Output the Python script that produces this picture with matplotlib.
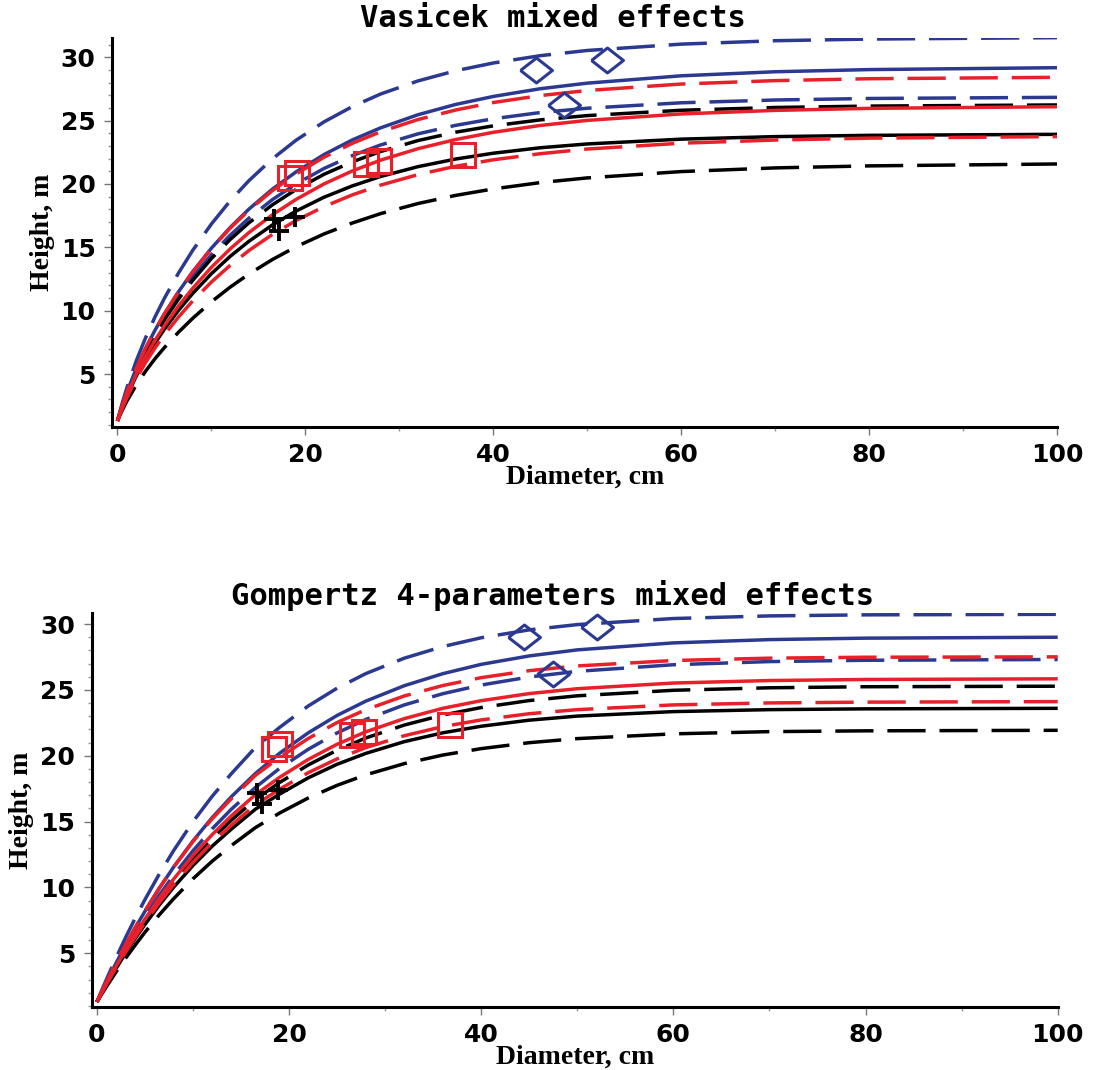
import matplotlib
matplotlib.use("Agg")
import matplotlib.pyplot as plt
from matplotlib.ticker import MultipleLocator

BLUE = "#2b3990"
RED = "#e8202a"
BLACK = "#000000"

diam = [0, 0.5, 1, 2, 3, 4, 5, 6.5, 8, 10, 12, 14, 16.5, 19, 22, 25, 28, 32, 36, 40, 45, 50, 60, 70, 80, 100]

# Vasicek panel (height, m)
vas_blue_hi = [1.3, 2.67, 3.90, 6.03, 7.87, 9.51, 10.98, 12.97, 14.75, 16.84, 18.67, 20.27, 21.99, 23.45,
               24.91, 26.11, 27.10, 28.14, 28.94, 29.55, 30.13, 30.54, 31.04, 31.31, 31.44, 31.55]
vas_blue = [1.3, 2.50, 3.57, 5.43, 7.03, 8.46, 9.75, 11.49, 13.06, 14.93, 16.57, 18.02, 19.60, 20.95,
            22.33, 23.48, 24.43, 25.47, 26.28, 26.91, 27.52, 27.96, 28.54, 28.86, 29.03, 29.18]
vas_blue_lo = [1.3, 2.46, 3.49, 5.30, 6.85, 8.23, 9.47, 11.15, 12.65, 14.42, 15.96, 17.31, 18.77, 20.00,
               21.23, 22.24, 23.08, 23.96, 24.63, 25.15, 25.64, 25.98, 26.41, 26.63, 26.75, 26.84]
vas_red_hi = [1.3, 2.50, 3.57, 5.44, 7.04, 8.46, 9.75, 11.50, 13.05, 14.90, 16.51, 17.94, 19.48, 20.79,
              22.12, 23.21, 24.12, 25.09, 25.84, 26.43, 26.98, 27.38, 27.89, 28.16, 28.31, 28.42]
vas_red = [1.3, 2.37, 3.32, 4.97, 6.40, 7.66, 8.81, 10.37, 11.76, 13.42, 14.88, 16.17, 17.57, 18.78,
           20.01, 21.03, 21.88, 22.79, 23.51, 24.08, 24.62, 25.02, 25.53, 25.81, 25.97, 26.10]
vas_red_lo = [1.3, 2.26, 3.12, 4.62, 5.91, 7.06, 8.10, 9.50, 10.76, 12.26, 13.58, 14.75, 16.02, 17.11,
              18.22, 19.14, 19.91, 20.74, 21.40, 21.91, 22.39, 22.76, 23.22, 23.47, 23.62, 23.74]
vas_black_hi = [1.3, 2.43, 3.44, 5.20, 6.72, 8.06, 9.28, 10.92, 12.38, 14.11, 15.62, 16.94, 18.36, 19.56,
                20.77, 21.75, 22.56, 23.43, 24.09, 24.59, 25.06, 25.40, 25.82, 26.04, 26.15, 26.24]
vas_black = [1.3, 2.32, 3.24, 4.84, 6.21, 7.44, 8.54, 10.03, 11.35, 12.92, 14.29, 15.48, 16.77, 17.86,
             18.96, 19.85, 20.59, 21.37, 21.97, 22.43, 22.86, 23.16, 23.54, 23.74, 23.84, 23.92]
vas_black_lo = [1.3, 2.12, 2.86, 4.13, 5.23, 6.21, 7.09, 8.30, 9.39, 10.70, 11.86, 12.90, 14.04, 15.04,
                16.06, 16.92, 17.66, 18.46, 19.10, 19.61, 20.11, 20.48, 20.98, 21.27, 21.43, 21.58]

# Gompertz panel (height, m)
gom_blue_hi = [1.3, 2.17, 3.02, 4.66, 6.21, 7.68, 9.07, 11.02, 12.81, 14.99, 16.92, 18.64, 20.63, 22.14,
               23.78, 25.13, 26.24, 27.41, 28.29, 28.96, 29.56, 29.96, 30.42, 30.62, 30.70, 30.74]
gom_blue = [1.3, 2.07, 2.82, 4.26, 5.63, 6.94, 8.18, 9.93, 11.56, 13.53, 15.30, 16.89, 18.65, 20.18,
            21.74, 23.06, 24.15, 25.32, 26.23, 26.94, 27.58, 28.04, 28.57, 28.82, 28.93, 29.00]
gom_blue_lo = [1.3, 2.02, 2.72, 4.08, 5.37, 6.60, 7.76, 9.41, 10.93, 12.78, 14.45, 15.94, 17.59, 19.03,
               20.49, 21.73, 22.76, 23.86, 24.71, 25.37, 25.98, 26.41, 26.91, 27.15, 27.25, 27.31]
gom_red_hi = [1.3, 2.08, 2.83, 4.29, 5.67, 6.98, 8.22, 9.96, 11.55, 13.48, 15.21, 16.74, 18.51, 19.86,
              21.31, 22.52, 23.50, 24.54, 25.33, 25.93, 26.46, 26.82, 27.23, 27.41, 27.48, 27.51]
gom_red = [1.3, 2.00, 2.69, 4.01, 5.26, 6.46, 7.59, 9.18, 10.64, 12.42, 14.01, 15.44, 17.04, 18.35,
           19.72, 20.87, 21.82, 22.82, 23.60, 24.18, 24.72, 25.09, 25.52, 25.71, 25.79, 25.84]
gom_red_lo = [1.3, 1.98, 2.63, 3.90, 5.10, 6.24, 7.32, 8.83, 10.22, 11.90, 13.40, 14.73, 16.27, 17.45,
              18.71, 19.76, 20.62, 21.52, 22.21, 22.72, 23.19, 23.50, 23.86, 24.01, 24.07, 24.11]
gom_black_hi = [1.3, 1.99, 2.66, 3.95, 5.17, 6.34, 7.44, 9.00, 10.43, 12.17, 13.72, 15.11, 16.68, 17.96,
                19.30, 20.42, 21.35, 22.33, 23.09, 23.66, 24.19, 24.55, 24.97, 25.16, 25.24, 25.28]
gom_black = [1.3, 1.96, 2.60, 3.84, 5.02, 6.13, 7.18, 8.66, 10.02, 11.66, 13.13, 14.43, 15.94, 17.08,
             18.32, 19.35, 20.18, 21.07, 21.74, 22.24, 22.70, 23.01, 23.35, 23.50, 23.56, 23.60]
gom_black_lo = [1.3, 1.89, 2.47, 3.58, 4.63, 5.63, 6.59, 7.92, 9.15, 10.65, 11.99, 13.18, 14.54, 15.64,
                16.79, 17.75, 18.55, 19.40, 20.05, 20.54, 20.99, 21.30, 21.66, 21.83, 21.89, 21.93]

# observed trees
sq_d = [18.4, 19.1, 26.5, 27.8, 36.8]
sq_h = [20.5, 20.9, 21.6, 21.8, 22.3]
dia_d = [44.5, 52.1, 47.5]
dia_h = [29.0, 29.8, 26.2]
plus_d = [16.7, 18.9, 17.2]
plus_h = [17.2, 17.4, 16.3]

WIDE_DIAMOND = [(-1, 0), (0, 0.78), (1, 0), (0, -0.78), (-1, 0)]
DASH = (0, (11, 4))


def panel(ax, curves, ylim):
    for y, col, ls in curves:
        ax.plot(diam, y, color=col, lw=2.5, linestyle=ls, solid_capstyle="butt",
                dash_capstyle="butt", solid_joinstyle="round", dash_joinstyle="round")
    ax.plot(plus_d, plus_h, "+", color=BLACK, ms=15, mew=2.8, ls="none")
    ax.plot(sq_d, sq_h, "s", mfc="none", mec=RED, ms=17, mew=2.2, ls="none")
    ax.plot(dia_d, dia_h, marker=WIDE_DIAMOND, mfc="none", mec=BLUE, ms=23, mew=2.2, ls="none")

    ax.set_xlim(-0.55, 100)
    ax.set_ylim(*ylim)
    ax.xaxis.set_major_locator(MultipleLocator(20))
    ax.xaxis.set_minor_locator(MultipleLocator(10))
    ax.yaxis.set_minor_locator(MultipleLocator(1))
    ax.set_yticks([5, 10, 15, 20, 25, 30])
    for s in ["top", "right"]:
        ax.spines[s].set_visible(False)
    for s in ["left", "bottom"]:
        ax.spines[s].set_linewidth(2.2)
    ax.tick_params(which="major", length=6, width=1, color="#777", labelsize=18, pad=6)
    ax.tick_params(which="minor", length=3, width=1, color="#999")
    for lbl in ax.get_xticklabels() + ax.get_yticklabels():
        lbl.set_fontweight("bold")
    ax.set_xlabel("Diameter, cm", family="Liberation Serif", fontweight="bold",
                  fontsize=20, labelpad=-2)
    ax.set_ylabel("Height, m", family="Liberation Serif", fontweight="bold",
                  fontsize=20, labelpad=4)


fig = plt.figure(figsize=(11.05, 10.70), dpi=100, facecolor="white")

ax1 = fig.add_axes([0.1016, 0.6012, 0.855, 0.363])
panel(ax1, [
    (vas_blue_hi, BLUE, DASH), (vas_blue, BLUE, "-"), (vas_blue_lo, BLUE, DASH),
    (vas_black_hi, BLACK, DASH), (vas_black, BLACK, "-"), (vas_black_lo, BLACK, DASH),
    (vas_red_hi, RED, DASH), (vas_red, RED, "-"), (vas_red_lo, RED, DASH),
], (0.84, 31.5))

ax2 = fig.add_axes([0.0829, 0.0592, 0.8743, 0.3679])
panel(ax2, [
    (gom_blue_hi, BLUE, DASH), (gom_blue, BLUE, "-"), (gom_blue_lo, BLUE, DASH),
    (gom_black_hi, BLACK, DASH), (gom_black, BLACK, "-"), (gom_black_lo, BLACK, DASH),
    (gom_red_hi, RED, DASH), (gom_red, RED, "-"), (gom_red_lo, RED, DASH),
], (0.94, 30.84))

fig.text(0.5, 0.983, "Vasicek mixed effects", ha="center", va="center",
         family="DejaVu Sans Mono", fontweight="bold", fontsize=22)
fig.text(0.5, 0.443, "Gompertz 4-parameters mixed effects", ha="center", va="center",
         family="DejaVu Sans Mono", fontweight="bold", fontsize=22)

fig.savefig("out.png", dpi=100, facecolor="white")
